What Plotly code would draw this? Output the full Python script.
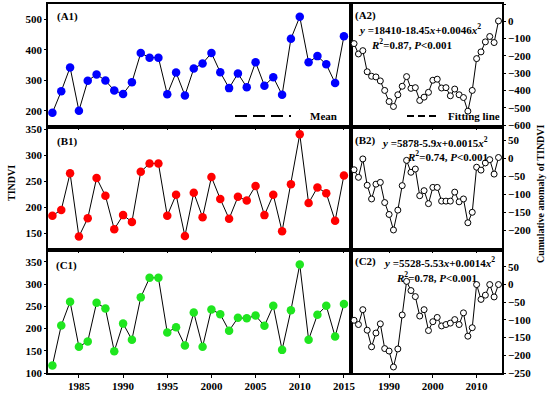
import plotly.graph_objects as go

years = list(range(1982, 2016))

tindvi_a = [193, 264, 342, 200, 298, 319, 299, 266, 255, 293, 389, 374, 374, 254, 325, 250, 338,
            355, 389, 326, 274, 322, 277, 359, 282, 310, 252, 436, 508, 359, 379, 352, 291, 444]
tindvi_b = [184, 195, 265, 144, 179, 256, 222, 158, 185, 172, 268, 284, 284, 184, 224, 145, 228,
            181, 258, 216, 178, 220, 213, 241, 185, 224, 154, 244, 340, 208, 238, 227, 174, 261]
tindvi_c = [117, 207, 260, 159, 171, 258, 245, 149, 211, 175, 270, 314, 314, 191, 203, 162, 236,
            159, 243, 232, 195, 224, 223, 229, 206, 251, 152, 241, 344, 175, 231, 251, 182, 255]

cum_a = [-129, -189, -170, -292, -318, -322, -345, -400, -464, -493, -425, -376, -320, -388, -384,
         -458, -439, -411, -341, -335, -386, -384, -431, -392, -425, -441, -520, -400, -216, -177,
         -119, -88, -123, 2]
cum_b = [-32, -53, -2, -75, -113, -72, -67, -123, -156, -199, -144, -76, -6, -39, -30, -104, -90,
         -126, -81, -81, -119, -119, -119, -94, -121, -113, -179, -150, -25, -33, -13, -4, -44, 2]
cum_c = [-101, -113, -71, -129, -176, -137, -111, -181, -188, -233, -182, -86, 9, -17, -34, -89,
         -71, -130, -105, -93, -117, -113, -109, -99, -113, -80, -146, -122, 0, -42, -30, 0, -35, 0]

equations = ["<i>y</i> =18410-18.45<i>x</i>+0.0046<i>x</i><sup>2</sup>",
             "<i>y</i> =5878-5.9<i>x</i>+0.0015<i>x</i><sup>2</sup>",
             "<i>y</i> =5528-5.53<i>x</i>+0.0014<i>x</i><sup>2</sup>"]
stats = ["<i>R</i><sup>2</sup>=0.87, <i>P</i>&lt;0.001",
         "<i>R</i><sup>2</sup>=0.74, <i>P</i>&lt;0.001",
         "<i>R</i><sup>2</sup>=0.78, <i>P</i>&lt;0.001"]

FONT = "Liberation Serif"
W, H = 550, 397
ML, MR, MT, MB = 48, 48, 4, 24
PW, PH = W - ML - MR, H - MT - MB


def px(x):
    return (x - ML) / PW


def py(y):
    return (H - MB - y) / PH


split = px(351)
rows_px = [(4, 125), (129, 248), (252, 373)]
left_ranges = [[153, 550], [122, 350], [100, 372]]
left_dticks = [100, 50, 50]
right_ranges = [[-600, 100], [-249, 81], [-250, 92]]
right_dticks = [100, 50, 50]
colors = ["#0000ff", "#ff0000", "#1fe61f"]
left_series = [tindvi_a, tindvi_b, tindvi_c]
right_series = [cum_a, cum_b, cum_c]

fig = go.Figure()
layout = {}
tickfont = dict(family=FONT, size=11, color="black", weight="bold")

for r in range(3):
    top, bot = rows_px[r]
    ydom = [py(bot), py(top)]
    li = 2 * r + 1
    ri = 2 * r + 2
    fig.add_trace(go.Scatter(
        x=years, y=left_series[r], mode="lines+markers",
        line=dict(color="black", width=1),
        marker=dict(color=colors[r], size=8.5, line=dict(width=0)),
        xaxis=f"x{li}", yaxis=f"y{li}", showlegend=False, cliponaxis=False))
    fig.add_trace(go.Scatter(
        x=years, y=right_series[r], mode="lines+markers",
        line=dict(color="black", width=1),
        marker=dict(color="white", size=6, line=dict(color="black", width=1)),
        xaxis=f"x{ri}", yaxis=f"y{ri}", showlegend=False))
    common_x = dict(showline=True, linecolor="black", linewidth=1.5, mirror=True,
                    ticks="outside", ticklen=3, tickwidth=1, tickcolor="black",
                    showgrid=False, zeroline=False, tickfont=tickfont, automargin=False,
                    ticklabelstandoff=-1, showticklabels=(r == 2))
    layout[f"xaxis{li}"] = dict(common_x, domain=[0, split], range=[1981.5, 2015.8],
                                tick0=1985, dtick=5, anchor=f"y{li}")
    layout[f"xaxis{ri}"] = dict(common_x, domain=[split, 1], range=[1981.3, 2015.8],
                                tick0=1990, dtick=10, anchor=f"y{ri}")
    common_y = dict(showline=True, linecolor="black", linewidth=1.5, mirror=True,
                    ticks="outside", ticklen=2, tickwidth=1, tickcolor="black",
                    showgrid=False, zeroline=False, tickfont=tickfont, automargin=False)
    layout[f"yaxis{li}"] = dict(common_y, domain=ydom, range=left_ranges[r],
                                dtick=left_dticks[r], tick0=0, anchor=f"x{li}")
    layout[f"yaxis{ri}"] = dict(common_y, domain=ydom, range=right_ranges[r],
                                dtick=right_dticks[r], tick0=0, anchor=f"x{ri}", side="right")

annotations = []


def ann(text, x, y, xanchor="left", size=11):
    annotations.append(dict(text=text, x=px(x), y=py(y), xref="paper", yref="paper",
                            xanchor=xanchor, yanchor="middle", showarrow=False,
                            font=dict(family=FONT, size=size, color="black")))


ann("<b>(A1)</b>", 55, 17)
ann("<b>(B1)</b>", 55, 141)
ann("<b>(C1)</b>", 54, 265)
ann("<b>(A2)</b>", 353, 15)
ann("<b>(B2)</b>", 353, 140)
ann("<b>(C2)</b>", 353, 261)
ann("<b>" + equations[0] + "</b>", 356, 29)
ann("<b>" + stats[0] + "</b>", 369, 44)
ann("<b>" + equations[1] + "</b>", 379, 142)
ann("<b>" + stats[1] + "</b>", 405, 156)
ann("<b>" + equations[2] + "</b>", 381, 262)
ann("<b>" + stats[2] + "</b>", 394, 277)
ann("<b>Mean</b>", 308, 116)
ann("<b>Fitting line</b>", 446, 116)

annotations.append(dict(text="<b>TINDVI</b>", x=px(11), y=py(183), xref="paper", yref="paper",
                        textangle=-90, showarrow=False, xanchor="center", yanchor="middle",
                        font=dict(family=FONT, size=10, color="black")))
annotations.append(dict(text="<b>Cumulative anomaly of TINDVI</b>", x=px(540), y=py(194),
                        xref="paper", yref="paper", textangle=-90, showarrow=False,
                        xanchor="center", yanchor="middle",
                        font=dict(family=FONT, size=10, color="black")))

shapes = [
    dict(type="line", xref="paper", yref="paper", x0=px(235), x1=px(291), y0=py(116), y1=py(116),
         line=dict(color="black", width=2, dash="12px,6px")),
    dict(type="line", xref="paper", yref="paper", x0=px(407), x1=px(438), y0=py(116), y1=py(116),
         line=dict(color="black", width=2, dash="7px,4px")),
]

fig.update_layout(
    template="none",
    width=W, height=H,
    margin=dict(l=ML, r=MR, t=MT, b=MB, pad=0),
    paper_bgcolor="white", plot_bgcolor="white",
    hovermode=False,
    annotations=annotations, shapes=shapes,
    **layout,
)

fig.write_html("out.html", config={"displayModeBar": False},
               post_script="document.body.style.margin='0px';document.body.style.overflow='hidden';")
